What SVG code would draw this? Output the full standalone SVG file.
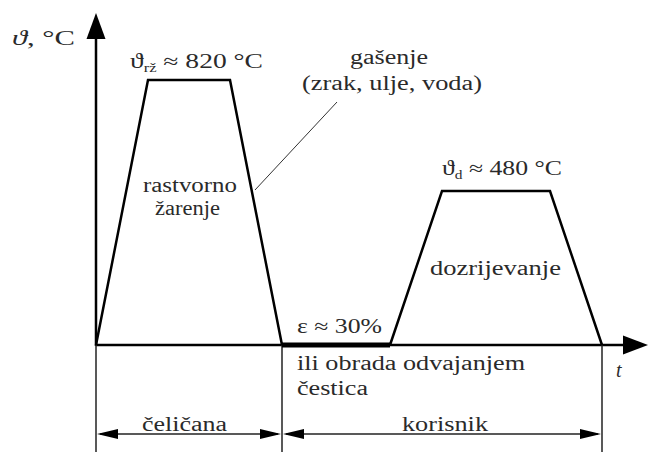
<svg xmlns="http://www.w3.org/2000/svg" width="649" height="452" viewBox="0 0 649 452">
<style>
.ax{stroke:#000;stroke-width:2.5;fill:none}
.dim{stroke:#222;stroke-width:1.5;fill:none}
.ah{fill:#000}
</style>
<rect width="649" height="452" fill="#fff"/>
<g id="connectors">
<line class="ax" x1="96" y1="346" x2="96" y2="36"/>
<polygon class="ah" points="96,13 86.5,39 105.5,39"/>
<line class="ax" x1="96" y1="345" x2="626" y2="345"/>
<polygon class="ah" points="648,345 623,335.5 623,354.5"/>
<line class="dim" x1="96" y1="345" x2="96" y2="452"/>
<line class="dim" x1="282" y1="345" x2="282" y2="452"/>
<line class="dim" x1="602" y1="345" x2="602" y2="452"/>
<line x1="337" y1="102" x2="255" y2="190" stroke="#333" stroke-width="1"/>
<line class="dim" x1="100" y1="434" x2="278" y2="434"/>
<polygon class="ah" points="97,434 118,429 118,439"/>
<polygon class="ah" points="281,434 260,429 260,439"/>
<line class="dim" x1="286" y1="434" x2="598" y2="434"/>
<polygon class="ah" points="283,434 304,429 304,439"/>
<polygon class="ah" points="601,434 580,429 580,439"/>
</g>
<g id="curve">
<polyline class="ax" points="96,345 148,80 230,80 282,345"/>
<line x1="282" y1="345" x2="390" y2="345" stroke="#000" stroke-width="5"/>
<polyline class="ax" points="390,345 442,191 550,191 602,345"/>
</g>
<g id="labels" font-family="Liberation Serif, serif" font-size="20" fill="#2a2a2a">
<text x="12" y="45" textLength="63" lengthAdjust="spacingAndGlyphs"><tspan font-style="italic">ϑ</tspan>, °C</text>
<text x="130" y="68" textLength="133" lengthAdjust="spacingAndGlyphs">ϑ<tspan font-size="12" dy="4">rž</tspan><tspan dy="-4"> ≈ 820 °C</tspan></text>
<text x="350" y="64" textLength="78" lengthAdjust="spacingAndGlyphs">gašenje</text>
<text x="302" y="90" textLength="180" lengthAdjust="spacingAndGlyphs">(zrak, ulje, voda)</text>
<text x="143" y="192" textLength="94" lengthAdjust="spacingAndGlyphs">rastvorno</text>
<text x="155" y="215" textLength="65" lengthAdjust="spacingAndGlyphs">žarenje</text>
<text x="442" y="175" textLength="120" lengthAdjust="spacingAndGlyphs">ϑ<tspan font-size="12" dy="4">d</tspan><tspan dy="-4"> ≈ 480 °C</tspan></text>
<text x="430" y="275" textLength="131" lengthAdjust="spacingAndGlyphs">dozrijevanje</text>
<text x="297" y="333" textLength="85" lengthAdjust="spacingAndGlyphs">ε ≈ 30%</text>
<text x="297" y="370" textLength="228" lengthAdjust="spacingAndGlyphs">ili obrada odvajanjem</text>
<text x="297" y="395" textLength="71" lengthAdjust="spacingAndGlyphs">čestica</text>
<text x="616" y="377" font-style="italic">t</text>
<text x="142" y="431" textLength="85" lengthAdjust="spacingAndGlyphs">čeličana</text>
<text x="402" y="431" textLength="86" lengthAdjust="spacingAndGlyphs">korisnik</text>
</g>
</svg>
